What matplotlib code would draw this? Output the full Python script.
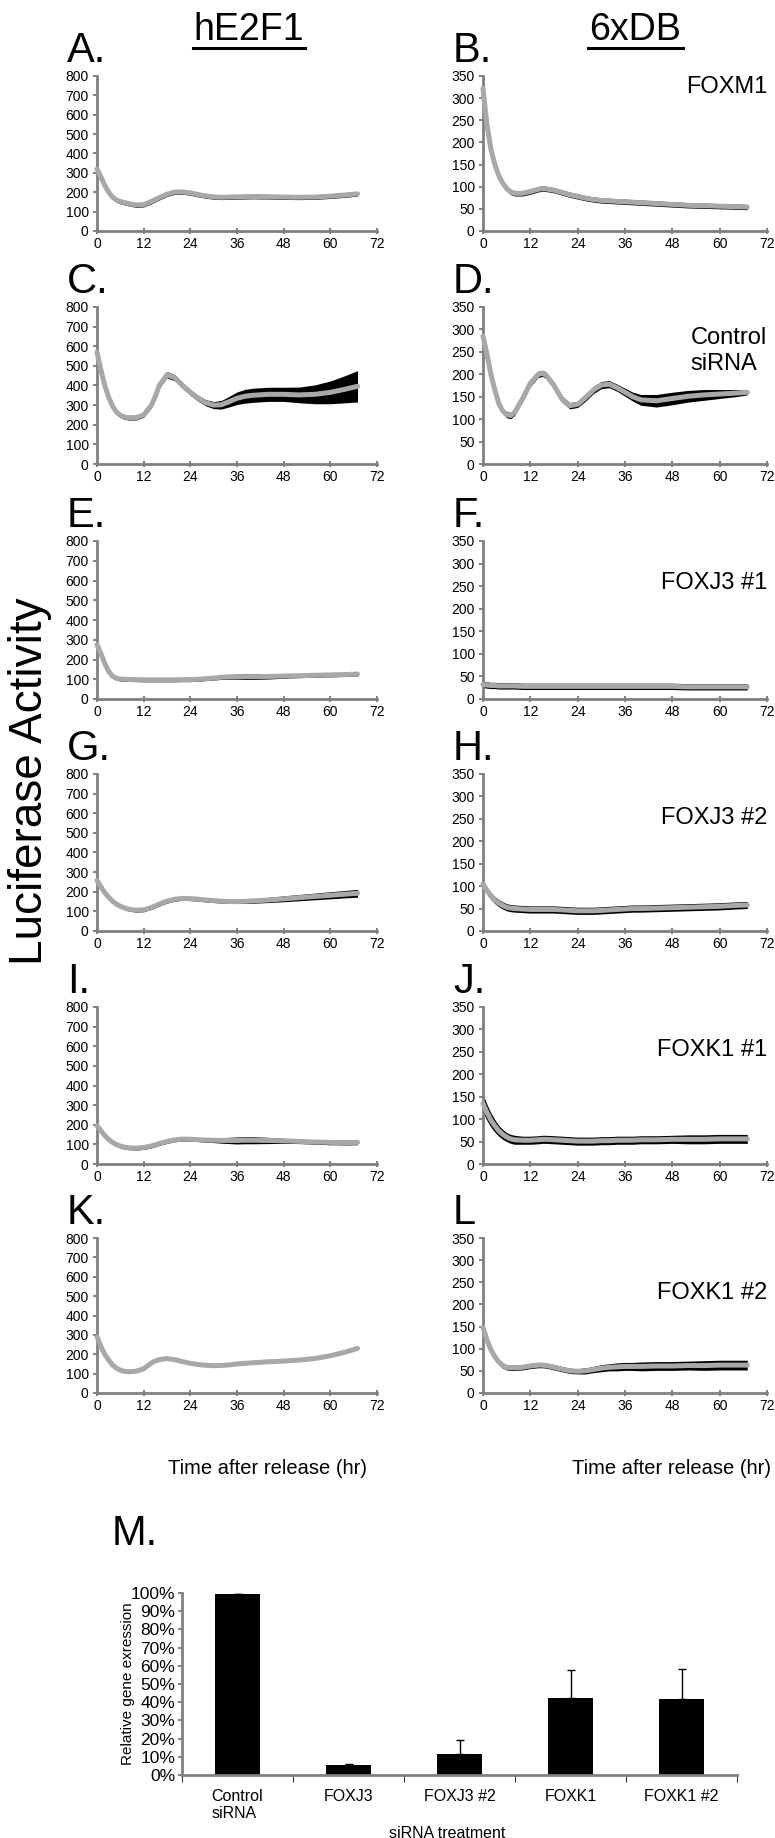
"""Luciferase reporter time courses (A-L) and siRNA knockdown bars (M)."""

import matplotlib

matplotlib.use("Agg")

import matplotlib.pyplot as plt
from matplotlib.lines import Line2D
from matplotlib.ticker import FuncFormatter, MultipleLocator

plt.rcParams["font.family"] = ["Liberation Sans", "DejaVu Sans"]

# hours after release, shared by every time course
TIME = [0, 1, 2, 3, 4, 5, 6, 7, 8, 10, 12, 14, 15, 16, 18, 20, 22, 24, 26, 28,
        30, 32, 34, 36, 38, 40, 44, 48, 52, 56, 60, 64, 67]

# hE2F1 reporter (left column)
A_MEAN = [320, 280, 235, 200, 175, 160, 152, 147, 142, 134, 136, 152, 162, 172, 190, 201, 202,
          196, 188, 181, 176, 174, 175, 176, 177, 178, 177, 175, 174, 175, 180, 186, 192]
A_SD = [12, 12, 12, 12, 12, 12, 12, 12, 12, 12, 12, 12, 12, 12, 12, 12, 12,
        12, 12, 12, 12, 12, 12, 12, 12, 12, 12, 12, 12, 12, 12, 12, 12]
C_MEAN = [570, 480, 400, 340, 295, 265, 248, 240, 236, 236, 250, 300, 345, 400, 455, 440, 400,
          365, 335, 312, 300, 302, 318, 335, 345, 350, 355, 355, 352, 355, 365, 382, 396]
C_SD = [12, 12, 12, 12, 12, 12, 12, 12, 12, 12, 12, 12, 12, 14, 16, 16, 15,
        15, 15, 16, 18, 22, 27, 32, 35, 36, 36, 36, 40, 48, 58, 70, 80]
E_MEAN = [275, 230, 180, 140, 115, 105, 101, 100, 99, 98, 97, 97, 97, 97, 97, 97, 98,
          98, 100, 103, 106, 110, 112, 113, 113, 113, 114, 116, 118, 120, 122, 124, 126]
E_SD = [10, 10, 10, 10, 10, 10, 10, 10, 10, 10, 10, 10, 10, 10, 10, 10, 10,
        10, 10, 10, 10, 11, 12, 13, 14, 14, 13, 11, 10, 10, 10, 10, 10]
G_MEAN = [258, 225, 195, 172, 152, 137, 126, 118, 112, 106, 108, 120, 128, 137, 152, 162, 166,
          165, 162, 158, 155, 152, 150, 150, 151, 153, 158, 164, 170, 176, 182, 188, 192]
G_SD = [10, 10, 10, 10, 10, 10, 10, 10, 10, 10, 10, 10, 10, 10, 10, 10, 10,
        10, 10, 10, 10, 10, 10, 10, 11, 12, 13, 15, 16, 17, 18, 19, 20]
I_MEAN = [195, 170, 145, 125, 110, 99, 91, 86, 83, 81, 84, 92, 98, 104, 115, 123, 127,
          126, 124, 122, 121, 120, 120, 120, 121, 121, 120, 118, 115, 112, 110, 109, 110]
I_SD = [10, 10, 10, 10, 10, 10, 10, 10, 10, 10, 10, 10, 10, 10, 10, 10, 10,
        10, 10, 11, 12, 14, 16, 18, 18, 18, 16, 13, 11, 11, 12, 12, 12]
K_MEAN = [290, 240, 200, 170, 145, 128, 118, 112, 110, 112, 125, 155, 165, 172, 178, 172, 162,
          153, 147, 143, 141, 142, 145, 150, 153, 156, 161, 165, 170, 178, 192, 212, 230]
K_SD = [6, 6, 6, 6, 6, 6, 6, 6, 6, 6, 6, 6, 6, 6, 6, 6, 6,
        6, 6, 6, 6, 6, 6, 6, 6, 6, 6, 6, 6, 6, 6, 6, 6]

# 6xDB reporter (right column)
B_MEAN = [322, 240, 185, 150, 125, 108, 96, 88, 85, 85, 89, 94, 96, 95, 92, 87, 82,
          78, 74, 71, 69, 68, 67, 66, 65, 64, 62, 60, 58, 57, 56, 55, 54]
B_SD = [6, 6, 6, 6, 6, 6, 6, 6, 6, 6, 6, 6, 6, 6, 6, 6, 6,
        6, 6, 6, 6, 6, 6, 6, 6, 6, 6, 6, 6, 6, 6, 6, 6]
D_MEAN = [285, 245, 200, 165, 135, 118, 110, 108, 115, 145, 180, 200, 202, 198, 175, 145, 130,
          133, 148, 165, 176, 178, 170, 160, 150, 143, 141, 146, 151, 154, 156, 158, 160]
D_SD = [6, 6, 6, 6, 6, 6, 7, 7, 7, 7, 7, 7, 7, 7, 7, 7, 7,
        7, 8, 8, 8, 8, 8, 9, 10, 12, 14, 14, 13, 12, 10, 8, 6]
F_MEAN = [32, 31, 30, 30, 29, 29, 29, 29, 29, 28, 28, 28, 28, 28, 28, 28, 28,
          28, 28, 28, 28, 28, 28, 28, 28, 28, 28, 28, 27, 27, 27, 27, 27]
F_SD = [7, 7, 7, 7, 7, 7, 7, 7, 7, 7, 7, 7, 7, 7, 7, 7, 7,
        7, 7, 7, 7, 7, 7, 7, 7, 7, 7, 7, 7, 7, 7, 7, 7]
H_MEAN = [105, 90, 78, 69, 62, 57, 53, 51, 50, 49, 48, 48, 48, 48, 48, 47, 46,
          45, 45, 45, 46, 47, 48, 49, 50, 50, 51, 52, 53, 54, 55, 57, 58]
H_SD = [8, 8, 8, 8, 8, 8, 8, 8, 8, 8, 8, 8, 8, 8, 8, 8, 8,
        8, 8, 8, 8, 8, 8, 8, 8, 8, 8, 8, 8, 8, 8, 8, 8]
J_MEAN = [135, 115, 98, 85, 74, 66, 60, 56, 54, 53, 53, 54, 55, 55, 54, 53, 52,
          51, 51, 51, 52, 52, 53, 53, 53, 54, 54, 55, 55, 55, 56, 56, 56]
J_SD = [20, 18, 16, 14, 12, 11, 10, 10, 10, 9, 9, 9, 9, 9, 9, 9, 9,
        9, 9, 9, 9, 9, 9, 9, 9, 9, 9, 9, 10, 10, 10, 10, 10]
L_MEAN = [148, 120, 98, 82, 70, 62, 58, 57, 57, 58, 61, 63, 63, 62, 58, 54, 50,
          49, 50, 53, 56, 58, 59, 60, 60, 60, 61, 61, 62, 62, 63, 63, 63]
L_SD = [6, 6, 6, 6, 6, 6, 6, 6, 6, 6, 6, 6, 6, 6, 6, 6, 6,
        6, 7, 7, 8, 8, 9, 9, 9, 10, 10, 10, 10, 11, 11, 11, 11]

# panel M
GENES = ["Control\nsiRNA", "FOXJ3", "FOXJ3 #2", "FOXK1", "FOXK1 #2"]
EXPRESSION = [99.5, 5.5, 11.5, 42.5, 42.0]
EXPRESSION_ERR_LOW = [0, 0, 0, 0, 0]
EXPRESSION_ERR_HIGH = [0, 0.5, 8.0, 15.0, 16.5]

W, H = 775, 1838
AXIS_GRAY = "#808080"
TRACE_GRAY = "#a8a8a8"
TICK_FONT = ["Liberation Sans Narrow", "Liberation Sans", "DejaVu Sans"]

COL_X = [(97, 377), (483, 767)]
LETTER_X = [67, 453]
ROW_Y = [(76, 231), (307, 464), (541, 699), (774, 931), (1007, 1164), (1238, 1393)]

# letter, mean, sd, y max, y step, column, row, (label, label offset below axes top)
PANELS = [
    ("A.", A_MEAN, A_SD, 800, 100, 0, 0, None),
    ("B.", B_MEAN, B_SD, 350, 50, 1, 0, ("FOXM1", 11)),
    ("C.", C_MEAN, C_SD, 800, 100, 0, 1, None),
    ("D.", D_MEAN, D_SD, 350, 50, 1, 1, ("Control\nsiRNA", 44)),
    ("E.", E_MEAN, E_SD, 800, 100, 0, 2, None),
    ("F.", F_MEAN, F_SD, 350, 50, 1, 2, ("FOXJ3 #1", 42)),
    ("G.", G_MEAN, G_SD, 800, 100, 0, 3, None),
    ("H.", H_MEAN, H_SD, 350, 50, 1, 3, ("FOXJ3 #2", 44)),
    ("I.", I_MEAN, I_SD, 800, 100, 0, 4, None),
    ("J.", J_MEAN, J_SD, 350, 50, 1, 4, ("FOXK1 #1", 43)),
    ("K.", K_MEAN, K_SD, 800, 100, 0, 5, None),
    ("L", L_MEAN, L_SD, 350, 50, 1, 5, ("FOXK1 #2", 55)),
]


def px_axes(fig, x0, top, x1, bottom):
    return fig.add_axes([x0 / W, 1 - bottom / H, (x1 - x0) / W, (bottom - top) / H])


def fig_text(fig, x, y, s, **kw):
    return fig.text(x / W, 1 - y / H, s, **kw)


def style_axes(ax):
    for side in ("top", "right"):
        ax.spines[side].set_visible(False)
    for side in ("left", "bottom"):
        ax.spines[side].set_color(AXIS_GRAY)
        ax.spines[side].set_linewidth(2.0)
    ax.tick_params(colors=AXIS_GRAY, labelcolor="black", width=1.4,
                   labelfontfamily=TICK_FONT)


fig = plt.figure(figsize=(W / 100, H / 100), dpi=100)

for letter, mean, sd, ymax, ystep, col, row, label in PANELS:
    x0, x1 = COL_X[col]
    top, bottom = ROW_Y[row]
    ax = px_axes(fig, x0, top, x1, bottom)
    lo = [m - s for m, s in zip(mean, sd)]
    hi = [m + s for m, s in zip(mean, sd)]
    ax.fill_between(TIME, lo, hi, color="black", lw=0)
    ax.plot(TIME, mean, color=TRACE_GRAY, lw=3.6, solid_capstyle="round",
            solid_joinstyle="round", clip_on=False, zorder=3)
    ax.set_xlim(0, 72)
    ax.set_ylim(0, ymax)
    ax.xaxis.set_major_locator(MultipleLocator(12))
    ax.yaxis.set_major_locator(MultipleLocator(ystep))
    style_axes(ax)
    ax.tick_params(axis="x", direction="inout", length=5, pad=2, labelsize=10)
    ax.tick_params(axis="y", direction="out", length=3, pad=3, labelsize=10)
    fig_text(fig, LETTER_X[col], top - 14, letter, fontsize=30, va="baseline")
    if label:
        text, offset = label
        fig_text(fig, x1, top + offset, text, fontsize=17, ha="right", va="center",
                 multialignment="left")

# column headers
for name, cx, ux0, ux1 in [("hE2F1", 249, 193, 305), ("6xDB", 635, 588, 683)]:
    fig_text(fig, cx, 40, name, fontsize=27, ha="center", va="baseline")
    fig.add_artist(Line2D([ux0 / W, ux1 / W], [1 - 48 / H, 1 - 48 / H],
                          transform=fig.transFigure, color="black", lw=2.2))

fig_text(fig, 30, 781, "Luciferase Activity", fontsize=33, rotation=90,
         ha="center", va="center")
fig_text(fig, 267, 1469, "Time after release (hr)", fontsize=14.5, ha="center", va="center")
fig_text(fig, 672, 1469, "Time after release (hr)", fontsize=14.5, ha="center", va="center")

# panel M: knockdown efficiency
ax = px_axes(fig, 182, 1593, 737, 1775)
pos = list(range(len(GENES)))
ax.bar(pos, EXPRESSION, width=0.41, color="black")
ax.errorbar(pos, EXPRESSION, yerr=[EXPRESSION_ERR_LOW, EXPRESSION_ERR_HIGH], fmt="none",
            ecolor="black", elinewidth=1, capsize=3, capthick=1)
ax.set_xlim(-0.5, len(GENES) - 0.5)
ax.set_ylim(0, 100)
ax.yaxis.set_major_locator(MultipleLocator(10))
ax.yaxis.set_major_formatter(FuncFormatter(lambda v, _: f"{v:.0f}%"))
ax.set_xticks(pos)
ax.set_xticklabels(GENES, multialignment="left")
ax.set_xticks([p - 0.5 for p in range(len(GENES) + 1)], minor=True)
style_axes(ax)
ax.tick_params(axis="x", which="major", length=0, pad=10, labelsize=11.5)
ax.tick_params(axis="x", which="minor", direction="out", length=5)
ax.tick_params(axis="y", direction="out", length=3, pad=2, labelsize=12.5)
fig_text(fig, 112, 1545, "M.", fontsize=30, va="baseline")
fig_text(fig, 128, 1684, "Relative gene exression", fontsize=11, rotation=90,
         ha="center", va="center")
fig_text(fig, 447, 1833, "siRNA treatment", fontsize=11.5, ha="center", va="center")

fig.savefig("out.png", dpi=100)
